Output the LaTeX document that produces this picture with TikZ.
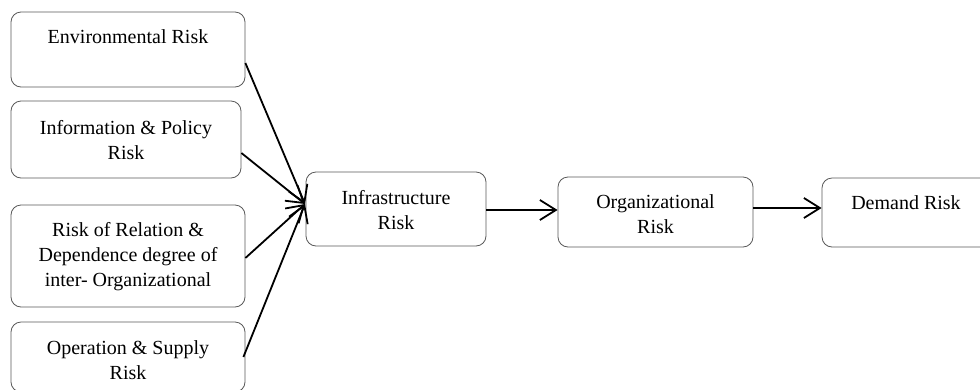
\documentclass[tikz,border=0pt]{standalone}
\usepackage{fontspec}
\setmainfont{Liberation Serif}
\usetikzlibrary{arrows.meta,calc}
\begin{document}
\begin{tikzpicture}[x=1pt,y=-1pt,
  riskbox/.style={draw=black!65,line width=0.8pt,rounded corners=10pt,inner sep=0pt},
  lbl/.style={align=center,font=\fontsize{20}{25}\selectfont,inner sep=0pt},
  conn/.style={line width=1.8pt,-{Straight Barb[length=16pt,width=20pt,line width=1.8pt]}}]
\useasboundingbox (0,0) rectangle (980,389);
\clip (0,0) rectangle (980,389);
% boxes
\node[riskbox,minimum width=234pt,minimum height=75pt] (b1) at (128,49.5) {};
\node[riskbox,minimum width=230pt,minimum height=77pt] (b2) at (126,139.5) {};
\node[riskbox,minimum width=234pt,minimum height=102pt] (b3) at (128,256) {};
\node[riskbox,minimum width=234pt,minimum height=70pt] (b4) at (128,357) {};
\node[riskbox,minimum width=180pt,minimum height=74pt] (infra) at (396,209) {};
\node[riskbox,minimum width=195pt,minimum height=70pt] (org) at (655.5,212) {};
\node[riskbox,minimum width=180pt,minimum height=69pt] (dem) at (912,212.5) {};
% labels
\node[lbl] (t1) at (128,37) {Environmental Risk};
\node[lbl] (t2) at (126,140.5) {Information \& Policy\\Risk};
\node[lbl] (t3) at (128,256.5) {Risk of Relation \&\\Dependence degree of\\inter- Organizational};
\node[lbl] (t4) at (128,360.5) {Operation \& Supply\\Risk};
\node[lbl] (t5) at (396,210) {Infrastructure\\Risk};
\node[lbl] (t6) at (655.5,214) {Organizational\\Risk};
\node[lbl] (t7) at (906,203) {Demand Risk};
% connectors
\coordinate (hub) at (305,204);
\draw[conn] ($(b1.east)+(0,13.5)$) -- (hub);
\draw[conn] ($(b2.east)+(0,13.5)$) -- (hub);
\draw[conn] ($(b3.east)+(0,2)$) -- (hub);
\draw[conn] ($(b4.east)+(-2,0)$) -- (hub);
\coordinate (s1) at ($(infra.east)+(0,1)$);
\coordinate (s2) at ($(org.east)+(0,-4)$);
\draw[conn] (s1) -- (s1 -| org.west);
\draw[conn] (s2) -- (s2 -| dem.west);
\end{tikzpicture}
\end{document}
